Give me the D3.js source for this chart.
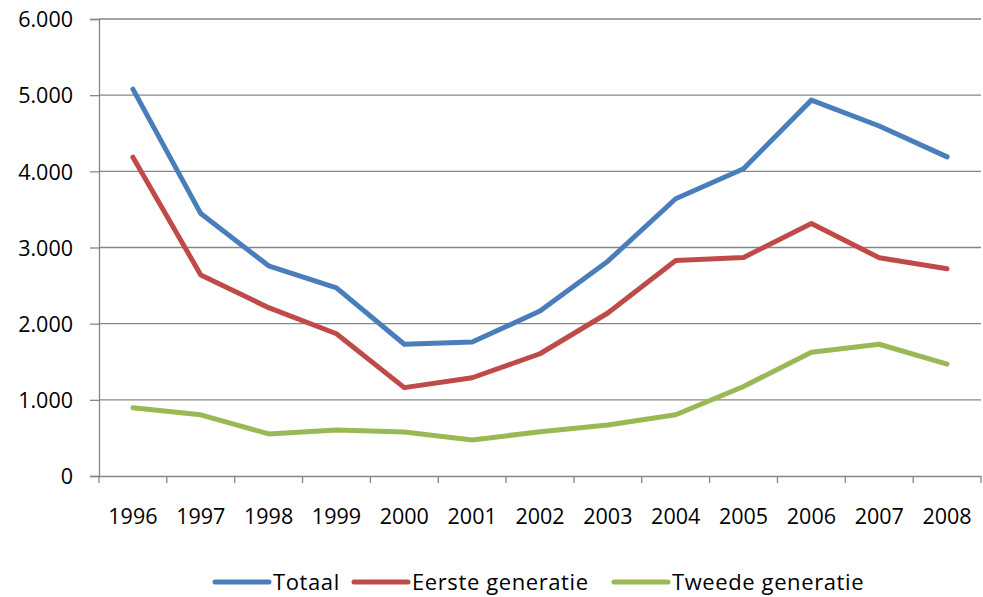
<!DOCTYPE html>
<html>
<head>
<meta charset="utf-8">
<script src="https://cdn.jsdelivr.net/npm/d3@7"></script>
<style>
  body { margin: 0; background: #fff; }
  text { font-family: "Open Sans", sans-serif; fill: #000; }
</style>
</head>
<body>
<div id="app"></div>
<script>
var years = ["1996", "1997", "1998", "1999", "2000", "2001", "2002", "2003", "2004", "2005", "2006", "2007", "2008"];
var totaal = [5080, 3445, 2760, 2470, 1730, 1760, 2165, 2820, 3640, 4035, 4935, 4595, 4190];
var eerste = [4185, 2640, 2210, 1868, 1160, 1290, 1605, 2140, 2828, 2870, 3315, 2865, 2720];
var tweede = [895, 803, 553, 605, 577, 474, 580, 670, 805, 1175, 1625, 1730, 1470];
var seriesNames = ["Totaal", "Eerste generatie", "Tweede generatie"];
var yTicks = [0, 1000, 2000, 3000, 4000, 5000, 6000];

var width = 983, height = 597;
var plotLeft = 99, plotRight = 981, plotTop = 19, plotBottom = 476;
var colors = ["#4a7ebb", "#be4b48", "#98b954"];

var svg = d3.select("#app").append("svg")
    .attr("width", width)
    .attr("height", height);

var x = d3.scaleBand().domain(years).range([plotLeft, plotRight]);
var y = d3.scaleLinear().domain([0, 6000]).range([plotBottom, plotTop]);

var fmt = function(d) { return d3.format(",")(d).replace(/,/g, "."); };

// gridlines
svg.append("g")
    .selectAll("line")
    .data(yTicks.filter(function(d) { return d > 0; }))
    .enter().append("line")
    .attr("x1", plotLeft).attr("x2", plotRight)
    .attr("y1", function(d) { return y(d); })
    .attr("y2", function(d) { return y(d); })
    .attr("stroke", "#868686")
    .attr("stroke-width", 1.3);

// y axis
var yAxis = svg.append("g")
    .attr("transform", "translate(" + plotLeft + ",0)")
    .call(d3.axisLeft(y).tickValues(yTicks).tickSize(9).tickPadding(17).tickFormat(fmt));
yAxis.selectAll("text").style("font-size", "21.5px").attr("dy", "0.36em");

// x axis
var xAxis = svg.append("g")
    .attr("transform", "translate(0," + plotBottom + ")")
    .call(d3.axisBottom(x).tickSize(0).tickPadding(33));
xAxis.selectAll("text").style("font-size", "21.5px");
xAxis.selectAll(".tick line").remove();
// tick marks between categories
xAxis.selectAll(".cat-tick")
    .data(years.concat(["end"]))
    .enter().append("line")
    .attr("class", "cat-tick")
    .attr("x1", function(d, i) { return plotLeft + i * x.step(); })
    .attr("x2", function(d, i) { return plotLeft + i * x.step(); })
    .attr("y1", 0).attr("y2", 7)
    .attr("stroke", "#868686")
    .attr("stroke-width", 1.3);

svg.selectAll(".domain").attr("stroke", "#868686").attr("stroke-width", 1.3);
svg.selectAll(".tick line").attr("stroke", "#868686").attr("stroke-width", 1.3);

// lines
var line = d3.line()
    .x(function(d, i) { return x(years[i]) + x.bandwidth() / 2; })
    .y(function(d) { return y(d); });

[totaal, eerste, tweede].forEach(function(s, i) {
    svg.append("path")
        .datum(s)
        .attr("d", line)
        .attr("fill", "none")
        .attr("stroke", colors[i])
        .attr("stroke-width", 5)
        .attr("stroke-linejoin", "round")
        .attr("stroke-linecap", "round");
});

// legend
var legendX = [215, 354, 614];
var legend = svg.append("g").attr("transform", "translate(0,582)");
seriesNames.forEach(function(name, i) {
    legend.append("line")
        .attr("x1", legendX[i]).attr("x2", legendX[i] + 54)
        .attr("y1", 0).attr("y2", 0)
        .attr("stroke", colors[i])
        .attr("stroke-width", 5)
        .attr("stroke-linecap", "round");
    legend.append("text")
        .attr("x", legendX[i] + 58)
        .attr("y", 0)
        .attr("dy", "0.36em")
        .style("font-size", "22px")
        .style("letter-spacing", "0.6px")
        .text(name);
});
</script>
</body>
</html>
